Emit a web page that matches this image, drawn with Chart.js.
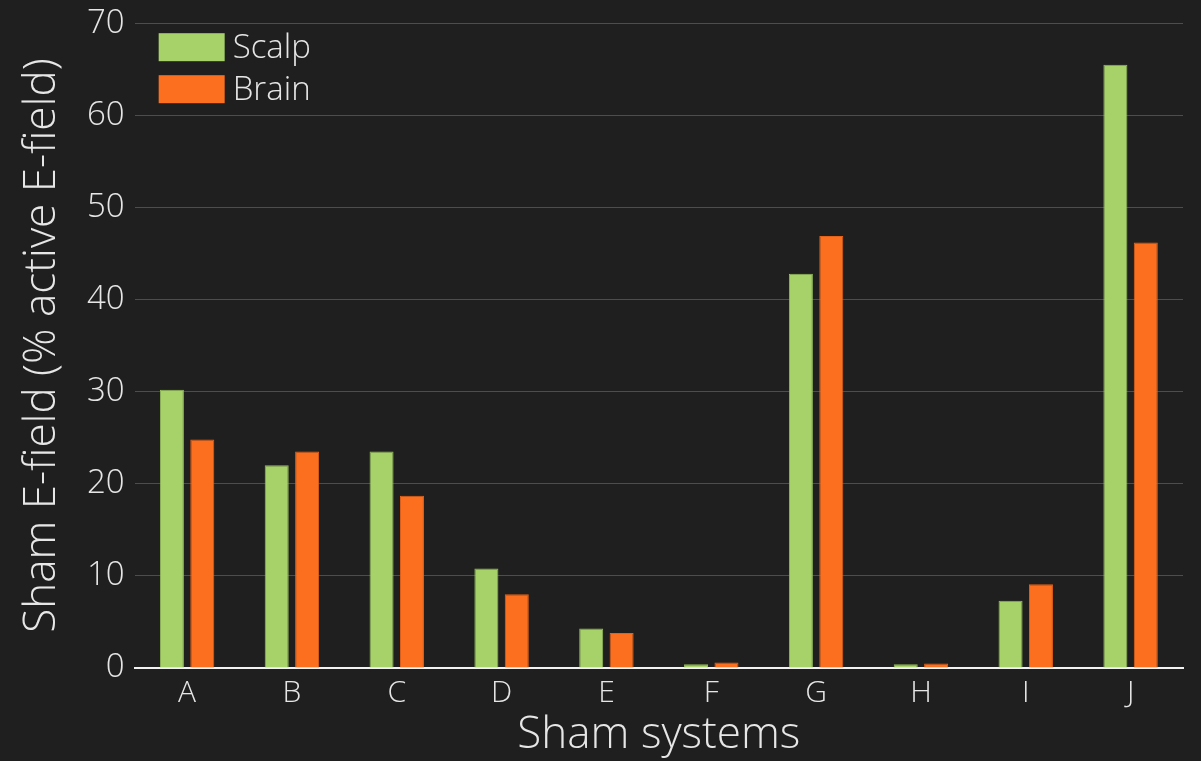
<!DOCTYPE html>
<html>
<head>
<meta charset="utf-8">
<script src="https://cdn.jsdelivr.net/npm/chart.js@4.4.0/dist/chart.umd.min.js"></script>
<style>
  html, body { margin: 0; padding: 0; background: #1f1f1f; }
  #wrap { width: 1201px; height: 761px; }
</style>
</head>
<body>
<div id="wrap"><canvas id="c" width="1201" height="761"></canvas></div>
<script>
// data
const categories = ['A', 'B', 'C', 'D', 'E', 'F', 'G', 'H', 'I', 'J'];
const scalp = [30.2, 22.0, 23.5, 10.8, 4.3, 0.4, 42.8, 0.4, 7.3, 65.5];
const brain = [24.8, 23.5, 18.7, 8.0, 3.8, 0.6, 46.9, 0.5, 9.1, 46.2];
const yTicks = [0, 10, 20, 30, 40, 50, 60, 70];

const FONT = '"Open Sans", sans-serif';
const TXT = '#e6e6e6';

// legend drawn inside the plot area, top-left, stacked
const insideLegend = {
  id: 'insideLegend',
  afterDraw(chart) {
    const ctx = chart.ctx;
    const area = chart.chartArea;
    ctx.save();
    ctx.font = '300 33px ' + FONT;
    ctx.textBaseline = 'middle';
    chart.data.datasets.forEach((ds, i) => {
      const x = area.left + 24;
      const y = area.top + 10 + i * 42;
      ctx.fillStyle = ds.backgroundColor;
      ctx.fillRect(x, y, 66, 28);
      ctx.fillStyle = TXT;
      ctx.fillText(ds.label, x + 74, y + 15);
    });
    ctx.restore();
  }
};

new Chart(document.getElementById('c'), {
  type: 'bar',
  data: {
    labels: categories,
    datasets: [
      { label: 'Scalp', data: scalp, backgroundColor: '#a7d26a', borderColor: '#94bd5b', borderWidth: 1 },
      { label: 'Brain', data: brain, backgroundColor: '#fb6f1f', borderColor: '#e5621a', borderWidth: 1 }
    ]
  },
  options: {
    responsive: false,
    animation: false,
    categoryPercentage: 0.58,
    barPercentage: 0.79,
    layout: { padding: { top: 5, right: 18, left: 20, bottom: 4 } },
    plugins: {
      legend: { display: false },
      tooltip: { enabled: false }
    },
    scales: {
      x: {
        grid: { display: false },
        border: { color: '#f2f2f2', width: 2 },
        ticks: { color: TXT, font: { family: FONT, size: 30, weight: '300', lineHeight: 1 }, padding: 2 },
        title: { display: true, text: 'Sham systems', color: TXT, font: { family: FONT, size: 44, weight: '300', lineHeight: 1 }, padding: { top: 3, bottom: 0 } }
      },
      y: {
        min: 0,
        max: 70,
        afterBuildTicks(axis) { axis.ticks = yTicks.map(v => ({ value: v })); },
        grid: { color: '#4d4d4d', lineWidth: 1, drawTicks: false },
        border: { display: false },
        ticks: { color: TXT, font: { family: FONT, size: 33, weight: '300', lineHeight: 0.8 }, padding: 10 },
        title: { display: true, text: 'Sham E-field (% active E-field)', color: TXT, font: { family: FONT, size: 44, weight: '300', lineHeight: 1 }, padding: { top: 0, bottom: 13 } }
      }
    }
  },
  plugins: [insideLegend]
});
</script>
</body>
</html>
